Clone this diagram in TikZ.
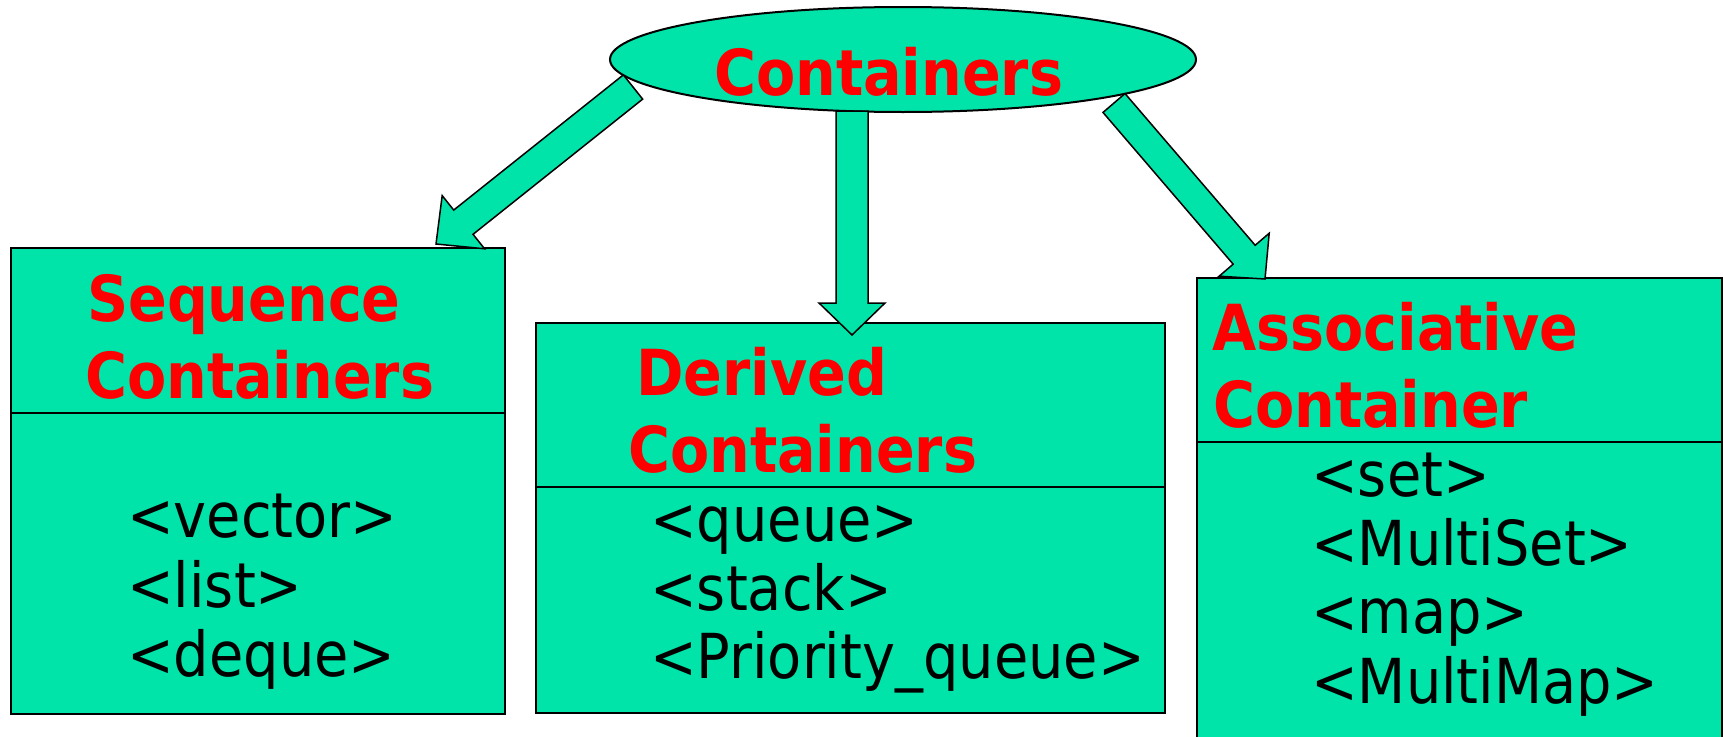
\documentclass[tikz,border=0pt]{standalone}
\usepackage{fontspec}
\setmainfont{DejaVu Sans Condensed}
\usetikzlibrary{shapes.geometric,calc}
\definecolor{contgreen}{RGB}{0,228,170}

% Block arrow from #1 (tail) to #2 (tip):
% #3 shaft half-width, #4 head half-width, #5 head length
\newcommand\blockarrow[5]{%
  \coordinate (#2base) at ($(#2)!#5!(#1)$);
  \draw[arrowbody]
    ($(#1)!#3!90:(#2)$) -- ($(#2base)!#3!90:(#2)$) -- ($(#2base)!#4!90:(#2)$)
    -- (#2)
    -- ($(#2base)!#4!-90:(#2)$) -- ($(#2base)!#3!-90:(#2)$) -- ($(#1)!#3!-90:(#2)$)
    -- cycle;
}

\begin{document}
\begin{tikzpicture}[x=1pt,y=-1pt,
  cbox/.style={draw=black, line width=2.2pt, fill=contgreen, inner sep=0pt, anchor=north west},
  divider/.style={draw=black, line width=2.2pt},
  hdr/.style={text=red, font=\bfseries\fontsize{63.5}{70}\selectfont, anchor=base west, inner sep=0pt},
  item/.style={text=black, font=\fontsize{62}{69}\selectfont, anchor=base west, inner sep=0pt},
  arrowbody/.style={draw=black, line width=1.5pt, fill=contgreen, line join=miter}
]
\useasboundingbox (0,0) rectangle (1723,736);
\clip (0,0) rectangle (1723,736);

% root ellipse
\node[draw=black, ellipse, line width=2pt, fill=contgreen, minimum width=586pt,
      minimum height=105pt, inner sep=0pt] (root) at (903,59.5) {};
\node[hdr] (roottxt) at (714,95) {Containers};

% sequence containers
\node[cbox, minimum width=494pt, minimum height=466pt] (seq) at (10,247) {};
\draw[divider] ($(seq.north west)+(0,166)$) -- ($(seq.north east)+(0,166)$);
\node[hdr] (seqh1) at (87,321) {Sequence};
\node[hdr] (seqh2) at (85,398) {Containers};
\node[item] (seq1) at (127,537) {<vector>};
\node[item] (seq2) at (127,607) {<list>};
\node[item] (seq3) at (127,676) {<deque>};

% derived containers
\node[cbox, minimum width=629pt, minimum height=390pt] (der) at (535,322) {};
\draw[divider] ($(der.north west)+(0,165)$) -- ($(der.north east)+(0,165)$);
\node[hdr] (derh1) at (636,395) {Derived};
\node[hdr] (derh2) at (628,472) {Containers};
\node[item] (der1) at (650,541) {<queue>};
\node[item] (der2) at (650,610) {<stack>};
\node[item] (der3) at (650,678) {<Priority\_queue>};

% associative container
\node[cbox, minimum width=525pt, minimum height=480pt] (ass) at (1196,277) {};
\draw[divider] ($(ass.north west)+(0,165)$) -- ($(ass.north east)+(0,165)$);
\node[hdr] (assh1) at (1212,350) {Associative};
\node[hdr] (assh2) at (1213,427) {Container};
\node[item] (ass1) at (1311,496) {<set>};
\node[item] (ass2) at (1311,565) {<MultiSet>};
\node[item] (ass3) at (1311,633) {<map>};
\node[item] (ass4) at (1311,703) {<MultiMap>};

% block arrows
\coordinate (seqtail) at (633,87);
\coordinate (seqtip) at (436,244);
\coordinate (dertail) at (852,111);
\coordinate (dertip) at (852,335);
\coordinate (asstail) at (1114,103);
\coordinate (asstip) at (1265,279);
\blockarrow{seqtail}{seqtip}{15.5pt}{34pt}{35pt}
\blockarrow{dertail}{dertip}{16pt}{33pt}{32pt}
\blockarrow{asstail}{asstip}{14.5pt}{33pt}{32pt}
\end{tikzpicture}
\end{document}
